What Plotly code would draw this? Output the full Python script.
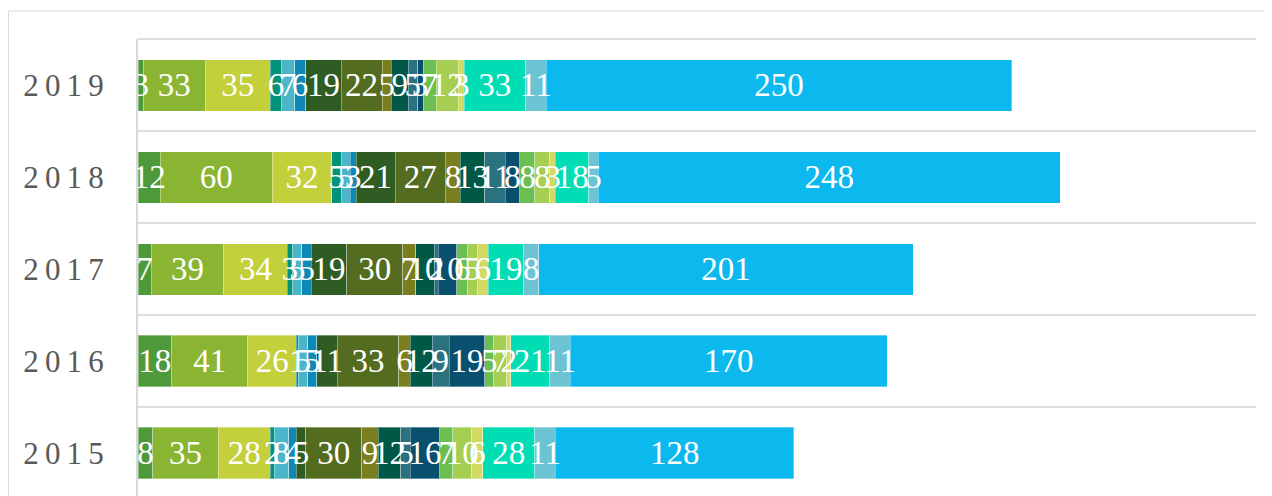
import plotly.graph_objects as go

years = ["2015", "2016", "2017", "2018", "2019"]

# one list per stacked segment (values for 2015..2019)
s01 = [8, 18, 7, 12, 3]
s02 = [35, 41, 39, 60, 33]
s03 = [28, 26, 34, 32, 35]
s04 = [2, 1, 3, 5, 6]
s05 = [8, 5, 5, 5, 7]
s06 = [4, 5, 5, 3, 6]
s07 = [5, 11, 19, 21, 19]
s08 = [30, 33, 30, 27, 22]
s09 = [9, 6, 7, 8, 5]
s10 = [12, 12, 10, 13, 9]
s11 = [5, 9, 2, 11, 5]
s12 = [16, 19, 10, 8, 3]
s13 = [7, 5, 6, 8, 7]
s14 = [10, 7, 5, 8, 12]
s15 = [6, 2, 6, 3, 3]
s16 = [28, 21, 19, 18, 33]
s17 = [11, 11, 8, 5, 11]
s18 = [128, 170, 201, 248, 250]

series = [s01, s02, s03, s04, s05, s06, s07, s08, s09, s10,
          s11, s12, s13, s14, s15, s16, s17, s18]
colors = ["#4E9A3A", "#8AB533", "#C3D03B", "#00937A", "#4DB5C8", "#0E88B6",
          "#2F5C22", "#536C20", "#7A7E1E", "#005846", "#2A727F", "#094F6E",
          "#6BBE51", "#A5CE52", "#D2DA63", "#00DDB4", "#6CC3D3", "#0BB9EE"]

Y_RANGE = [-0.467, 4.506]
TEXT_NUDGE = -0.028  # small baseline correction for label glyphs

fig = go.Figure()
for vals, col in zip(series, colors):
    fig.add_trace(go.Bar(
        y=years, x=vals, orientation="h",
        marker=dict(color=col, line=dict(color="rgba(255,255,255,0.35)", width=1)),
        hoverinfo="skip", showlegend=False,
    ))

# value labels drawn above all bars (centre of each stacked segment)
base = [0] * len(years)
for vals in series:
    mids = [b + v / 2 for b, v in zip(base, vals)]
    fig.add_trace(go.Scatter(
        x=mids, y=[i + TEXT_NUDGE for i in range(len(years))], yaxis="y2",
        mode="text", text=[str(v) for v in vals],
        textposition="middle center",
        textfont=dict(family="Liberation Serif", size=33, color="white"),
        hoverinfo="skip", showlegend=False,
    ))
    base = [b + v for b, v in zip(base, vals)]

ticktext = ["\u2009".join(list(y)) for y in years]

fig.update_layout(
    width=1264, height=488,
    barmode="stack", bargap=0.44,
    margin=dict(l=130, r=16, t=31, b=0),
    plot_bgcolor="white", paper_bgcolor="white",
    xaxis=dict(range=[0, 600], showgrid=False, zeroline=False,
               showticklabels=False, showline=False, fixedrange=True),
    yaxis=dict(type="category", categoryarray=years, categoryorder="array",
               range=Y_RANGE, tickson="boundaries", ticks="",
               showgrid=True, gridcolor="#dedede", gridwidth=2,
               showline=True, linecolor="#d9d9d9", linewidth=2,
               tickvals=years, ticktext=ticktext, ticklabelstandoff=26,
               tickfont=dict(family="Liberation Serif", size=31, color="#595959")),
    yaxis2=dict(overlaying="y", type="linear", range=Y_RANGE, visible=False,
                showgrid=False, zeroline=False),
    shapes=[
        dict(type="rect", xref="paper", yref="paper",
             x0=-0.1158, x1=1.2, y0=-0.3, y1=1.0615,
             line=dict(color="#d9d9d9", width=1), layer="below"),
        dict(type="line", xref="paper", yref="paper",
             x0=0, x1=1, y0=1, y1=1,
             line=dict(color="#dedede", width=2), layer="below"),
    ],
)

fig.write_html("out.html")
